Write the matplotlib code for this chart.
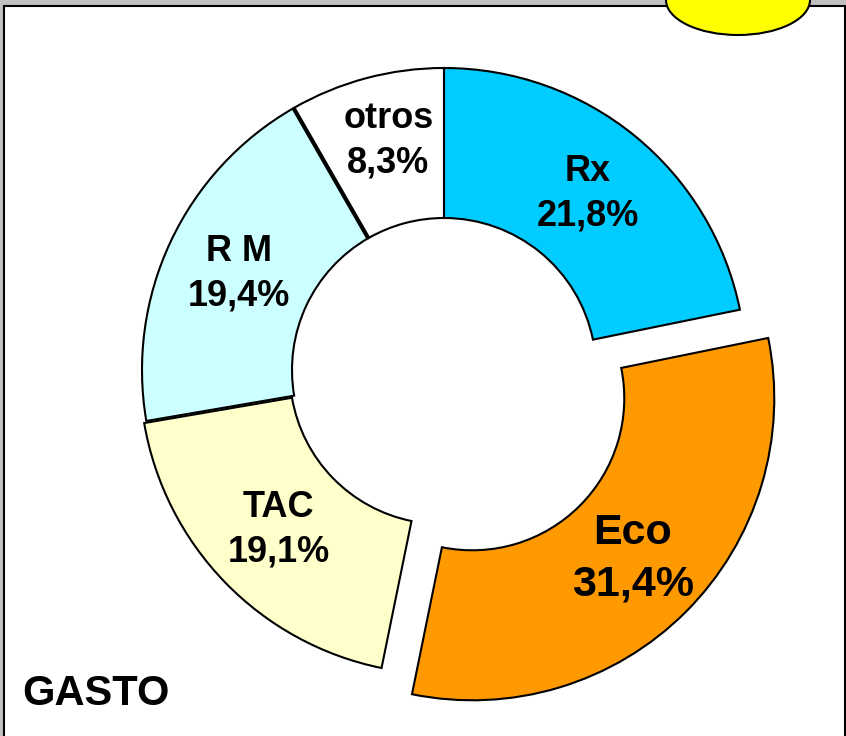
import numpy as np
import matplotlib.pyplot as plt
from matplotlib.patches import Rectangle, Ellipse

plt.rcParams['font.family'] = ['Liberation Sans', 'DejaVu Sans']

# data
labels = ['Rx', 'Eco', 'TAC', 'R M', 'otros']
values = [21.8, 31.4, 19.1, 19.4, 8.3]
colors = ['#00CCFF', '#FF9900', '#FFFFCC', '#CCFFFF', '#FFFFFF']
explode = [0, 40, 3, 0, 0]   # in pixels
title = 'GASTO'

W, H = 846, 736
cx, cy = 444, H - 370
R, ring = 302, 150

fig = plt.figure(figsize=(W / 100, H / 100), dpi=100)
fig.patch.set_facecolor('#C0C0C0')
ax = fig.add_axes([0, 0, 1, 1])

# white panel
ax.add_patch(Rectangle((3.5, -2), 841.5, H - 5.5 + 2, facecolor='white',
                       edgecolor='black', lw=1.5, zorder=0))

texts = [f'{l}\n{v:.1f}%'.replace('.', ',') for l, v in zip(labels, values)]
# pie's explode is in data units (here pixels)
wedges, txts = ax.pie(values, labels=texts, colors=colors, startangle=90,
                      counterclock=False, center=(cx, cy), radius=R,
                      explode=explode,
                      labeldistance=(R - ring / 2) / R,
                      wedgeprops=dict(width=ring, edgecolor='black', linewidth=1.5),
                      textprops=dict(fontsize=26, fontweight='bold', linespacing=1.35),
                      frame=True)
for t, l in zip(txts, labels):
    t.set_ha('center')
    t.set_va('center')
    if l == 'Eco':
        t.set_fontsize(31)
    if l == 'otros':
        x, y = t.get_position()
        t.set_position((x + 3, y + 10))

ax.set_xlim(0, W)
ax.set_ylim(0, H)
ax.set_aspect('equal')
ax.axis('off')

# thicker boundary between R M and otros
ang = np.deg2rad(90 - 360 * sum(values[:4]) / sum(values))
ax.plot([cx + (R - ring) * np.cos(ang), cx + R * np.cos(ang)],
        [cy + (R - ring) * np.sin(ang), cy + R * np.sin(ang)],
        color='black', lw=3, solid_capstyle='butt', zorder=5)

# yellow ellipse at top right
ax.add_patch(Ellipse((738, H), 144, 70, facecolor='#FFFF00', edgecolor='black',
                     lw=1.5, zorder=6, clip_on=False))

ax.text(22, H - 705, title, fontsize=30, fontweight='bold', ha='left', va='baseline')

fig.savefig('out.png', dpi=100, facecolor=fig.get_facecolor())
